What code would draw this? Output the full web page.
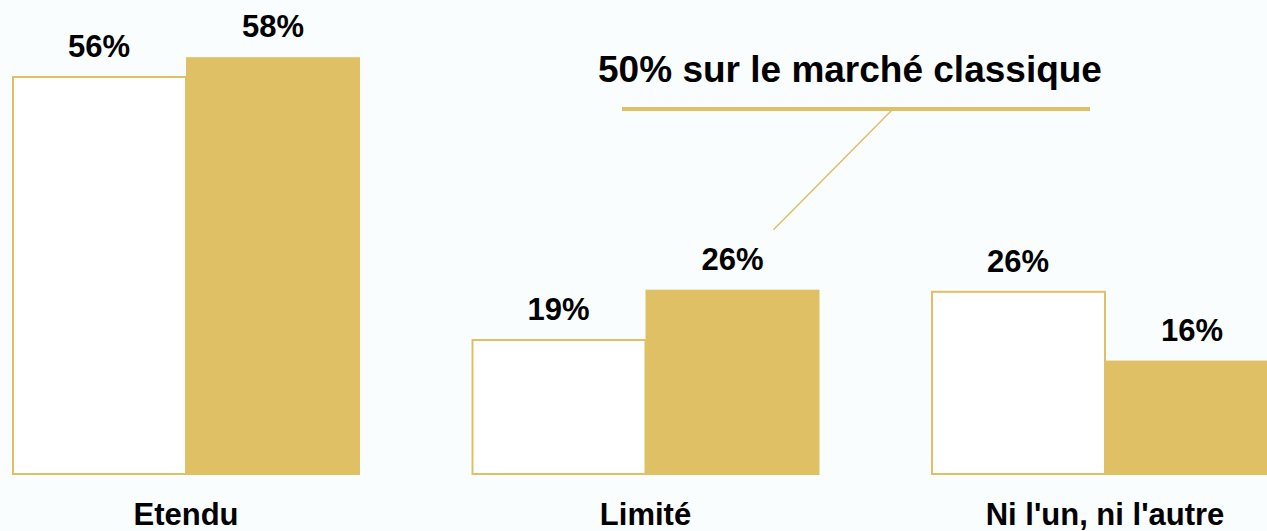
<!DOCTYPE html>
<html>
<head>
<meta charset="utf-8">
<script src="https://cdn.jsdelivr.net/npm/d3@7"></script>
<style>
  body { margin: 0; background: #fafdfe; }
  text { font-family: "Liberation Sans", Arial, sans-serif; font-weight: bold; fill: #000; }
</style>
</head>
<body>
<div id="chart"></div>
<script>
// data (bar heights, labels as printed)
let categories = ["Etendu", "Limité", "Ni l'un, ni l'autre"];
let series = ["Série 1", "Série 2"];
let values1 = [56, 18.9, 25.7];
let values2 = [58.8, 26, 16];
let labels1 = ["56%", "19%", "26%"];
let labels2 = ["58%", "26%", "16%"];
let annotation = "50% sur le marché classique";

let width = 1267;
let height = 531;
let gold = "#e0c065";
let baseline = 474;

let svg = d3
  .select("#chart")
  .append("svg")
  .attr("width", width)
  .attr("height", height);

svg.append("rect")
  .attr("width", width)
  .attr("height", height)
  .attr("fill", "#fafdfe");

// scales
let x0 = d3
  .scaleBand()
  .domain(categories)
  .range([12, 1279])
  .paddingInner(0.2427)
  .paddingOuter(0);
let x1 = d3
  .scaleBand()
  .domain(series)
  .range([0, x0.bandwidth()]);
let yScale = d3
  .scaleLinear()
  .domain([0, 56])
  .range([baseline, 77]);

let rows = categories.map((c, i) => ({
  cat: c,
  v: [values1[i], values2[i]],
  l: [labels1[i], labels2[i]]
}));

let groups = svg
  .append("g")
  .selectAll(".group")
  .data(rows)
  .enter()
  .append("g")
  .attr("class", "group")
  .attr("transform", d => `translate(${x0(d.cat)},0)`);

// outlined bars
groups
  .append("rect")
  .attr("x", x1(series[0]) + 1)
  .attr("y", d => yScale(d.v[0]))
  .attr("width", x1.bandwidth() - 1)
  .attr("height", d => baseline - yScale(d.v[0]))
  .attr("fill", "#ffffff")
  .attr("stroke", gold)
  .attr("stroke-width", 2);

// filled bars
groups
  .append("rect")
  .attr("x", x1(series[1]))
  .attr("y", d => yScale(d.v[1]))
  .attr("width", x1.bandwidth())
  .attr("height", d => baseline - yScale(d.v[1]) + 1)
  .attr("fill", gold);

// value labels
series.forEach((s, k) => {
  groups
    .append("text")
    .attr("x", x1(s) + x1.bandwidth() / 2)
    .attr("y", d => yScale(d.v[k]) - 20)
    .attr("text-anchor", "middle")
    .style("font-size", "31px")
    .text(d => d.l[k]);
});

// category labels
groups
  .append("text")
  .attr("x", x0.bandwidth() / 2)
  .attr("y", 525)
  .attr("text-anchor", "middle")
  .style("font-size", "31px")
  .text(d => d.cat);

// annotation
svg.append("text")
  .attr("x", 850)
  .attr("y", 82)
  .attr("text-anchor", "middle")
  .style("font-size", "37px")
  .text(annotation);

svg.append("line")
  .attr("x1", 622)
  .attr("x2", 1090)
  .attr("y1", 109)
  .attr("y2", 109)
  .attr("stroke", gold)
  .attr("stroke-width", 4);

// pointer to the Limité bar
let target = x0(categories[1]) + x1(series[1]) + x1.bandwidth() / 2 + 41;
svg.append("line")
  .attr("x1", 892)
  .attr("y1", 110)
  .attr("x2", target)
  .attr("y2", yScale(values2[1]) - 60)
  .attr("stroke", gold)
  .attr("stroke-width", 1.5);
</script>
</body>
</html>
